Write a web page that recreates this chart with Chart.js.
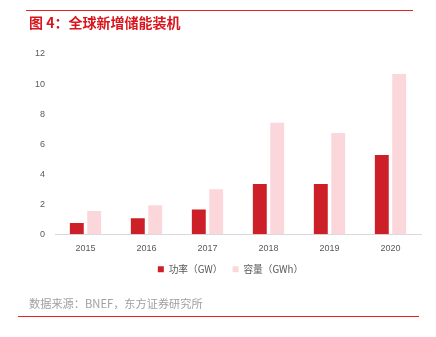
<!DOCTYPE html>
<html>
<head>
<meta charset="utf-8">
<script src="https://cdn.jsdelivr.net/npm/chart.js@4/dist/chart.umd.min.js"></script>
<style>
    html, body { margin: 0; padding: 0; background: #fff; }
    #page { position: relative; width: 436px; height: 337px; overflow: hidden; }
    #chartBox { position: absolute; left: 0; top: 0; width: 436px; height: 337px; }
    .rule { position: absolute; height: 1px; background: #e3231f; }
    #title {
        position: absolute; left: 29px; top: 13px;
        font: bold 14px "Noto Sans CJK SC", sans-serif;
        color: #d9161e; white-space: nowrap; line-height: 18px;
    }
    #source {
        position: absolute; left: 29px; top: 295px;
        font: 11.2px "Noto Sans CJK SC", sans-serif;
        color: #a0a0a0; white-space: nowrap; line-height: 16px;
    }
</style>
</head>
<body>
<div id="page">
    <div id="chartBox"><canvas id="storageChart"></canvas></div>
    <div class="rule" style="left:26px; top:10px; width:387px;"></div>
    <div id="title">图 4：全球新增储能装机</div>
    <div id="source">数据来源：BNEF，东方证券研究所</div>
    <div class="rule" style="left:18px; top:316px; width:401px;"></div>
</div>
<script>
// Chart data
const years = ['2015', '2016', '2017', '2018', '2019', '2020'];
const powerGW = [0.75, 1.07, 1.65, 3.35, 3.35, 5.27];
const capacityGWh = [1.55, 1.93, 3.0, 7.42, 6.75, 10.67];
const yTicks = [0, 2, 4, 6, 8, 10, 12];

const tickFont = { family: '"Liberation Sans", sans-serif', size: 9 };

// Nudge the legend right so it sits under the plot like the original
const legendShift = {
    id: 'legendShift',
    afterLayout(chart) {
        if (chart.legend) {
            chart.legend.left += 20;
            chart.legend.right += 20;
        }
    }
};

document.addEventListener('DOMContentLoaded', () => {
    const ctx = document.getElementById('storageChart');

    new Chart(ctx, {
        type: 'bar',
        data: {
            labels: years,
            datasets: [
                {
                    label: '功率（GW）',
                    data: powerGW,
                    backgroundColor: '#cc1f27',
                    borderWidth: 0
                },
                {
                    label: '容量（GWh）',
                    data: capacityGWh,
                    backgroundColor: '#fbd7db',
                    borderWidth: 0
                }
            ]
        },
        options: {
            responsive: true,
            maintainAspectRatio: false,
            animation: false,
            layout: {
                padding: { top: 54, right: 15, bottom: 53, left: 0 }
            },
            datasets: {
                bar: { categoryPercentage: 0.57, barPercentage: 0.8 }
            },
            plugins: {
                tooltip: { enabled: false },
                legend: {
                    position: 'bottom',
                    labels: {
                        boxWidth: 6,
                        boxHeight: 6,
                        padding: 10,
                        color: '#595959',
                        font: { family: '"Noto Sans CJK SC", sans-serif', size: 9.7 }
                    }
                }
            },
            scales: {
                x: {
                    afterFit: (scale) => { scale.height = 20; },
                    grid: { display: false, drawTicks: false },
                    border: { display: true, color: '#d9d9d9', width: 1 },
                    ticks: { color: '#595959', font: tickFont, padding: 9 }
                },
                y: {
                    min: 0,
                    max: 12,
                    afterFit: (scale) => { scale.width = 55; },
                    afterBuildTicks: (scale) => {
                        scale.ticks = yTicks.map(v => ({ value: v }));
                    },
                    grid: { display: false, drawTicks: false },
                    border: { display: false },
                    ticks: { color: '#595959', font: tickFont, padding: 10 }
                }
            }
        },
        plugins: [legendShift]
    });
});
</script>
</body>
</html>
